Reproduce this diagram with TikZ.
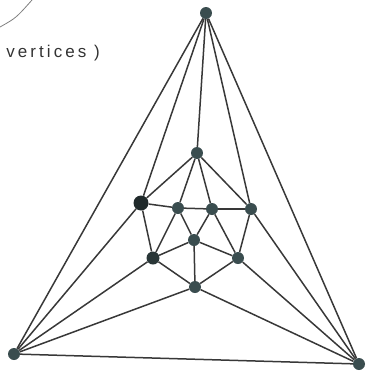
\documentclass[tikz,border=0pt]{standalone}
\usepackage{fontspec}
\newfontfamily\handfont[LetterSpace=18]{Liberation Sans}
\definecolor{vtx}{HTML}{3A4D4F}
\definecolor{edg}{HTML}{383838}
\tikzset{
  vert/.style={circle, fill=vtx, inner sep=0pt, minimum size=12pt},
  bigvert/.style={vert, fill=vtx!55!black, minimum size=15pt},
  edge/.style={draw=edg, line width=1.5pt}
}

\begin{document}
\begin{tikzpicture}[x=1pt, y=-1pt]
    \useasboundingbox (0,0) rectangle (368,373);

    % outer triangle
    \node[vert] (top) at (206,13) {};
    \node[vert] (left) at (14,354) {};
    \node[vert] (right) at (359,364) {};

    % inner vertices
    \node[vert] (a) at (197,153) {};
    \node[bigvert] (b) at (141,203) {};
    \node[vert] (c) at (178,208) {};
    \node[vert] (d) at (212,209) {};
    \node[vert] (e) at (251,209) {};
    \node[vert] (f) at (194,240) {};
    \node[vert, fill=vtx!70!black, minimum size=13pt] (g) at (153,258) {};
    \node[vert] (h) at (238,258) {};
    \node[vert] (i) at (195,287) {};

    % edges
    \foreach \u/\v in {top/left, top/right, left/right,
                       top/b, top/a, top/e,
                       left/b, left/g, left/i,
                       right/e, right/h, right/i,
                       a/b, a/c, a/d, a/e,
                       b/c, b/g,
                       c/d, c/f, c/g,
                       d/e, d/f, d/h,
                       e/h,
                       f/g, f/h, f/i,
                       g/i, h/i}
        \draw[edge] (\u) -- (\v);

    % note in the corner
    \node[anchor=base east, inner sep=0pt, text=black!80,
          font=\handfont\fontsize{17}{17}\selectfont] (note) at (100,57) {vertices )};
    \draw[gray, line width=0.8pt] (0,27) .. controls (16,18) .. (32,0);
\end{tikzpicture}
\end{document}
